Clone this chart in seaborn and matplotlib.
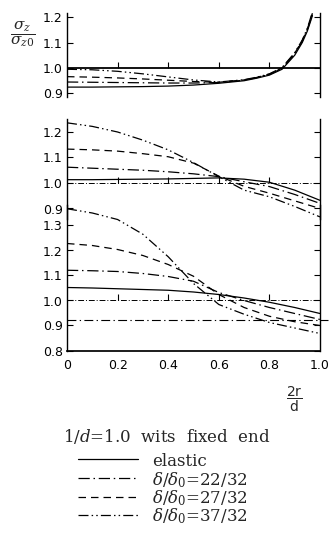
import numpy as np
import pandas as pd
import matplotlib
matplotlib.use("Agg")
import matplotlib.pyplot as plt
import seaborn as sns
from matplotlib.lines import Line2D

# ---------------- data ----------------
cases = ["elastic", "22/32", "27/32", "37/32"]
case_labels = ["elastic",
               r"$\delta/\delta_0$=$\mathit{22/32}$",
               r"$\delta/\delta_0$=$\mathit{27/32}$",
               r"$\delta/\delta_0$=$\mathit{37/32}$"]

# top panel
x_top = [0, 0.1, 0.2, 0.3, 0.4, 0.5, 0.6, 0.7, 0.75, 0.8, 0.85, 0.9, 0.93, 0.95, 0.97]
top_elastic = [0.925, 0.925, 0.926, 0.927, 0.929, 0.933, 0.940, 0.950, 0.960, 0.972, 0.995, 1.050, 1.100, 1.145, 1.205]
top_22 = [0.945, 0.944, 0.943, 0.942, 0.941, 0.941, 0.943, 0.952, 0.962, 0.975, 0.998, 1.055, 1.105, 1.150, 1.210]
top_27 = [0.966, 0.964, 0.961, 0.957, 0.952, 0.947, 0.944, 0.953, 0.963, 0.976, 1.000, 1.058, 1.108, 1.153, 1.215]
top_37 = [0.995, 0.993, 0.987, 0.977, 0.965, 0.953, 0.945, 0.954, 0.964, 0.977, 1.002, 1.060, 1.110, 1.156, 1.220]

# middle panel
x_mid = [0, 0.1, 0.2, 0.3, 0.4, 0.5, 0.6, 0.7, 0.8, 0.9, 1.0]
mid_elastic = [1.013, 1.013, 1.014, 1.015, 1.016, 1.018, 1.020, 1.015, 1.003, 0.972, 0.932]
mid_22 = [1.062, 1.058, 1.054, 1.050, 1.044, 1.036, 1.025, 1.005, 0.986, 0.955, 0.920]
mid_27 = [1.133, 1.130, 1.125, 1.115, 1.103, 1.078, 1.027, 0.987, 0.960, 0.930, 0.900]
mid_37 = [1.236, 1.222, 1.200, 1.168, 1.130, 1.080, 1.025, 0.972, 0.946, 0.908, 0.867]

# bottom panel
x_bot = [0, 0.1, 0.2, 0.3, 0.4, 0.5, 0.6, 0.7, 0.8, 0.9, 1.0]
bot_elastic = [1.052, 1.050, 1.047, 1.044, 1.041, 1.034, 1.024, 1.010, 0.993, 0.972, 0.948]
bot_22 = [1.121, 1.119, 1.116, 1.108, 1.096, 1.077, 1.032, 1.000, 0.972, 0.948, 0.924]
bot_27 = [1.228, 1.220, 1.204, 1.180, 1.144, 1.097, 1.024, 0.972, 0.937, 0.915, 0.900]
bot_37 = [1.367, 1.350, 1.324, 1.265, 1.175, 1.068, 0.984, 0.945, 0.912, 0.890, 0.868]

ref_line = 1.0
bot_extra_line = 0.92
x_ticks = [0, 0.2, 0.4, 0.6, 0.8, 1.0]
x_ticklabels = ["0", "0.2", "0.4", "0.6", "0.8", "1.0"]
top_yticks = [0.9, 1.0, 1.1, 1.2]
mid_yticks = [0.9, 1.0, 1.1, 1.2]
bot_yticks = [0.8, 0.9, 1.0, 1.1, 1.2, 1.3]


def panel_df(x, series):
    rows = []
    for c, vals in zip(cases, series):
        for xi, v in zip(x, vals):
            rows.append({"x": xi, "v": v, "case": c})
    return pd.DataFrame(rows)


df_top = panel_df(x_top, [top_elastic, top_22, top_27, top_37])
df_mid = panel_df(x_mid, [mid_elastic, mid_22, mid_27, mid_37])
df_bot = panel_df(x_bot, [bot_elastic, bot_22, bot_27, bot_37])

# ---------------- style ----------------
sns.set_theme(style="white")
plt.rcParams["font.family"] = ["DejaVu Sans"]
plt.rcParams["mathtext.fontset"] = "dejavuserif"

dashes = {"elastic": "", "22/32": (9, 3, 1.2, 3), "27/32": (6, 4),
          "37/32": (8, 2.5, 1.2, 2.5, 1.2, 2.5)}
LW = 0.9
SERIF = ["DejaVu Serif"]

W, H = 331, 545
fig = plt.figure(figsize=(W / 100, H / 100), dpi=100)


def px_axes(top_px, bot_px):
    return fig.add_axes([67 / W, 1 - bot_px / H, 253 / W, (bot_px - top_px) / H])


ax_top = px_axes(13.2, 97.3)
ax_mid = px_axes(119.25, 218.7)
ax_bot = px_axes(205.5, 350.5)

ax_top.set_ylim(0.885, 1.215)
ax_mid.set_ylim(0.86, 1.25)
ax_bot.set_ylim(0.8, 1.38)

for ax, df, yt in [(ax_top, df_top, top_yticks), (ax_mid, df_mid, mid_yticks),
                   (ax_bot, df_bot, bot_yticks)]:
    ax.patch.set_alpha(0)
    sns.lineplot(data=df, x="x", y="v", style="case", dashes=dashes, color="black",
                 linewidth=LW, ax=ax, legend=False, sort=False, estimator=None)
    ax.set_xlim(0, 1.0)
    ax.set_yticks(yt)
    ax.set_yticklabels([f"{t:.1f}" for t in yt])
    ax.set_xlabel("")
    ax.set_ylabel("")
    for s in ["top", "bottom"]:
        ax.spines[s].set_visible(False)
    for s in ["left", "right"]:
        ax.spines[s].set_color("black")
        ax.spines[s].set_linewidth(1.0)
    ax.tick_params(axis="y", direction="in", left=True, right=True, length=4,
                   width=0.8, labelsize=9, pad=3, colors="black")
    ax.tick_params(axis="x", bottom=False, labelbottom=False)
    # small tick marks on the 1.0 reference line
    ax.plot(x_ticks[1:-1], [ref_line] * 4, linestyle="none", marker=2,
            markersize=4, color="black", markeredgewidth=0.8)

ax_top.axhline(ref_line, color="black", linewidth=1.3)
ax_mid.axhline(ref_line, color="black", linewidth=0.7, dashes=(6, 2, 1, 2))
ax_bot.axhline(ref_line, color="black", linewidth=0.7, dashes=(6, 2, 1, 2))
ax_bot.plot([0, 1.03], [bot_extra_line, bot_extra_line], color="black",
            linewidth=0.8, dashes=(8, 3, 1.2, 3), clip_on=False)

ax_bot.spines["bottom"].set_visible(True)
ax_bot.spines["bottom"].set_color("black")
ax_bot.set_xticks(x_ticks)
ax_bot.set_xticklabels(x_ticklabels)
ax_bot.tick_params(axis="x", bottom=True, labelbottom=True, length=0, pad=6,
                   labelsize=9, colors="black")

# axis labels
fig.text(23 / W, 1 - 34 / H, r"$\dfrac{\sigma_z}{\sigma_{z0}}$", ha="center",
         va="center", fontsize=11)
fig.text(294 / W, 1 - 399 / H, r"$\dfrac{\mathsf{2r}}{\mathsf{d}}$", ha="center",
         va="center", fontsize=10)

fig.text(167 / W, 1 - 441.7 / H, r"$1/d$=1.0  wits  fixed  end", ha="center",
         va="baseline", fontsize=12, family=SERIF)

# legend (keys + labels)
row_line_y = [459, 478, 496.7, 515]
row_base_y = [466.5, 485, 503, 521]
for c, lab, ly, by in zip(cases, case_labels, row_line_y, row_base_y):
    kw = {} if dashes[c] == "" else {"dashes": dashes[c]}
    fig.add_artist(Line2D([78 / W, 138 / W], [1 - ly / H, 1 - ly / H],
                          transform=fig.transFigure, color="black", linewidth=LW, **kw))
    fig.text(152 / W, 1 - by / H, lab, ha="left", va="baseline", fontsize=12,
             family=SERIF)

fig.savefig("out.png", dpi=100)
